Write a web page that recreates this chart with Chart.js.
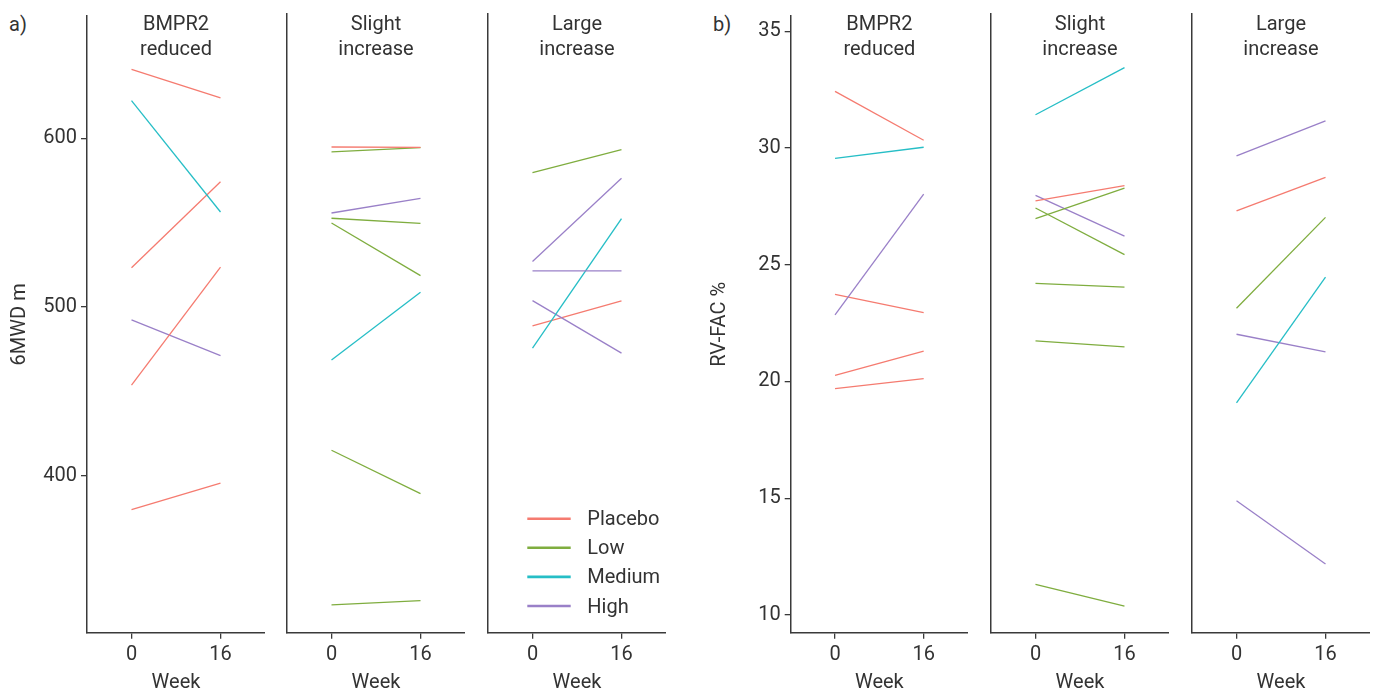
<!DOCTYPE html>
<html><head><meta charset="utf-8">
<script src="https://cdn.jsdelivr.net/npm/chart.js@4"></script>
<style>
body{margin:0;width:1375px;height:695px;background:#fff;position:relative;overflow:hidden;font-family:Roboto,sans-serif}
canvas{position:absolute;top:0}
.lab{position:absolute;font:20px Roboto,sans-serif;color:#333;line-height:20px}
</style></head><body>
<div class="lab" style="left:9px;top:14px">a)</div>
<div class="lab" style="left:713px;top:14px">b)</div>
<canvas id="a1" width="265" height="695" style="left:0px"></canvas>
<canvas id="a2" width="188" height="695" style="left:277.3px"></canvas>
<canvas id="a3" width="188" height="695" style="left:478px"></canvas>
<canvas id="b1" width="268" height="695" style="left:700px"></canvas>
<canvas id="b2" width="188" height="695" style="left:981.3px"></canvas>
<canvas id="b3" width="188" height="695" style="left:1182.3px"></canvas>
<script>
// ---- data ----
const weekTicks = [0, 16];
const groups = ['Placebo', 'Low', 'Medium', 'High'];
const groupColors = ['#f57b70', '#7fad3f', '#26bec6', '#9a80c8'];
const facetTitles = [['BMPR2', 'reduced'], ['Slight', 'increase'], ['Large', 'increase']];
const mwdTicks = [400, 500, 600];
const facTicks = [10, 15, 20, 25, 30, 35];

// 6MWD, BMPR2 reduced
const mwdReducedGroup = ['Placebo', 'Medium', 'Placebo', 'Placebo', 'High', 'Placebo'];
const mwdReducedWeek0 = [640.8, 622.3, 523.2, 453.7, 492.3, 379.9];
const mwdReducedWeek16 = [624.0, 556.3, 574.2, 523.6, 471.2, 395.5];
// 6MWD, Slight increase
const mwdSlightGroup = ['Placebo', 'Low', 'High', 'Low', 'Low', 'Medium', 'Low', 'Low'];
const mwdSlightWeek0 = [593.9, 591.0, 554.9, 551.8, 549.0, 468.1, 414.7, 323.4];
const mwdSlightWeek16 = [593.7, 593.5, 563.6, 548.8, 517.9, 508.1, 389.1, 325.8];
// 6MWD, Large increase
const mwdLargeGroup = ['Low', 'High', 'High', 'Medium', 'High', 'Placebo'];
const mwdLargeWeek0 = [578.7, 526.2, 520.7, 475.0, 503.1, 488.2];
const mwdLargeWeek16 = [592.3, 575.4, 520.7, 551.6, 472.1, 503.0];

// RV-FAC, BMPR2 reduced
const facReducedGroup = ['Placebo', 'Medium', 'High', 'Placebo', 'Placebo', 'Placebo'];
const facReducedWeek0 = [32.42, 29.55, 22.85, 23.73, 20.26, 19.69];
const facReducedWeek16 = [30.33, 30.03, 28.02, 22.95, 21.30, 20.12];
// RV-FAC, Slight increase
const facSlightGroup = ['Medium', 'Placebo', 'Low', 'High', 'Low', 'Low', 'Low', 'Low'];
const facSlightWeek0 = [31.35, 27.67, 26.92, 27.91, 27.37, 24.15, 21.70, 11.30];
const facSlightWeek16 = [33.36, 28.32, 28.22, 26.17, 25.38, 23.99, 21.44, 10.37];
// RV-FAC, Large increase
const facLargeGroup = ['High', 'Placebo', 'Low', 'Medium', 'High', 'High'];
const facLargeWeek0 = [29.59, 27.25, 23.09, 19.05, 21.98, 14.87];
const facLargeWeek16 = [31.09, 28.68, 26.97, 24.42, 21.23, 12.17];

// ---- drawing ----
const TXT = '#333333';
const AX = '#3a3a3a';
const FONT = {family: 'Roboto', size: 20};

function colorOf(g) { return groupColors[groups.indexOf(g)]; }

function buildDatasets(gs, w0, w16) {
  return gs.map((g, i) => ({
    label: g,
    data: [{x: weekTicks[0], y: w0[i]}, {x: weekTicks[1], y: w16[i]}],
    borderColor: colorOf(g), backgroundColor: colorOf(g),
    borderWidth: 1.3, pointRadius: 0, fill: false, tension: 0
  }));
}

const facetTitlePlugin = {
  id: 'facetTitle',
  afterDraw(chart, args, opts) {
    const {ctx, chartArea} = chart;
    const cx = (chartArea.left + chartArea.right) / 2;
    ctx.save();
    ctx.font = '20px Roboto';
    ctx.fillStyle = TXT;
    ctx.textAlign = 'center';
    ctx.textBaseline = 'middle';
    opts.lines.forEach((t, i) => ctx.fillText(t, cx, 24.5 + i * 25));
    ctx.restore();
  }
};

const groupLegendPlugin = {
  id: 'groupLegend',
  afterDraw(chart, args, opts) {
    if (!opts.show) return;
    const {ctx, chartArea} = chart;
    ctx.save();
    ctx.font = '20px Roboto';
    ctx.textBaseline = 'middle';
    ctx.textAlign = 'left';
    groups.forEach((g, i) => {
      const y = chartArea.bottom - 114 + i * 29.1;
      ctx.strokeStyle = groupColors[i];
      ctx.lineWidth = 2.6;
      ctx.beginPath();
      ctx.moveTo(chartArea.left + 39.3, y);
      ctx.lineTo(chartArea.left + 82.7, y);
      ctx.stroke();
      ctx.fillStyle = TXT;
      ctx.fillText(g, chartArea.left + 99.3, y + 1.5);
    });
    ctx.restore();
  }
};

function makeChart(id, datasets, cfg) {
  const first = cfg.first;
  new Chart(document.getElementById(id), {
    type: 'line',
    data: {datasets},
    options: {
      responsive: false, animation: false, devicePixelRatio: 1,
      layout: {padding: {top: 14, left: 0, right: 0, bottom: 0}},
      plugins: {
        legend: {display: false}, tooltip: {enabled: false},
        facetTitle: {lines: cfg.title},
        groupLegend: {show: !!cfg.legend}
      },
      scales: {
        x: {
          type: 'linear', min: -8, max: 24,
          afterBuildTicks: s => { s.ticks = weekTicks.map(v => ({value: v})); },
          afterFit: s => { s.height = 62.3; },
          ticks: {autoSkip: false, maxRotation: 0, font: FONT, color: TXT, padding: 4},
          grid: {drawOnChartArea: false, tickLength: 6, color: AX, lineWidth: 1.3},
          border: {display: true, color: AX, width: 1.5},
          title: {display: true, text: 'Week', font: FONT, color: TXT, padding: {top: 0, bottom: 0}}
        },
        y: {
          type: 'linear', min: cfg.ymin, max: cfg.ymax,
          afterBuildTicks: s => { s.ticks = cfg.yticks.map(v => ({value: v})); },
          afterFit: s => { s.width = cfg.yw; },
          ticks: {display: first, autoSkip: false, font: FONT, color: TXT, padding: 4},
          grid: {display: first, drawOnChartArea: false, tickLength: 6, color: AX, lineWidth: 1.3},
          border: {display: true, color: AX, width: 1.5},
          title: {display: first, text: cfg.ytitle || '', font: FONT, color: TXT, padding: {top: 8, bottom: 0}}
        }
      }
    },
    plugins: [facetTitlePlugin, groupLegendPlugin]
  });
}

const mwdMin = 306.9, mwdMax = 672.5;
const facMin = 9.24, facMax = 35.65;

makeChart('a1', buildDatasets(mwdReducedGroup, mwdReducedWeek0, mwdReducedWeek16),
  {first: true, title: facetTitles[0], ymin: mwdMin, ymax: mwdMax, yticks: mwdTicks, yw: 87, ytitle: '6MWD m'});
makeChart('a2', buildDatasets(mwdSlightGroup, mwdSlightWeek0, mwdSlightWeek16),
  {first: false, title: facetTitles[1], ymin: mwdMin, ymax: mwdMax, yticks: mwdTicks, yw: 10});
makeChart('a3', buildDatasets(mwdLargeGroup, mwdLargeWeek0, mwdLargeWeek16),
  {first: false, title: facetTitles[2], ymin: mwdMin, ymax: mwdMax, yticks: mwdTicks, yw: 10, legend: true});
makeChart('b1', buildDatasets(facReducedGroup, facReducedWeek0, facReducedWeek16),
  {first: true, title: facetTitles[0], ymin: facMin, ymax: facMax, yticks: facTicks, yw: 90.7, ytitle: 'RV-FAC %'});
makeChart('b2', buildDatasets(facSlightGroup, facSlightWeek0, facSlightWeek16),
  {first: false, title: facetTitles[1], ymin: facMin, ymax: facMax, yticks: facTicks, yw: 10});
makeChart('b3', buildDatasets(facLargeGroup, facLargeWeek0, facLargeWeek16),
  {first: false, title: facetTitles[2], ymin: facMin, ymax: facMax, yticks: facTicks, yw: 10});
</script>
</body></html>
